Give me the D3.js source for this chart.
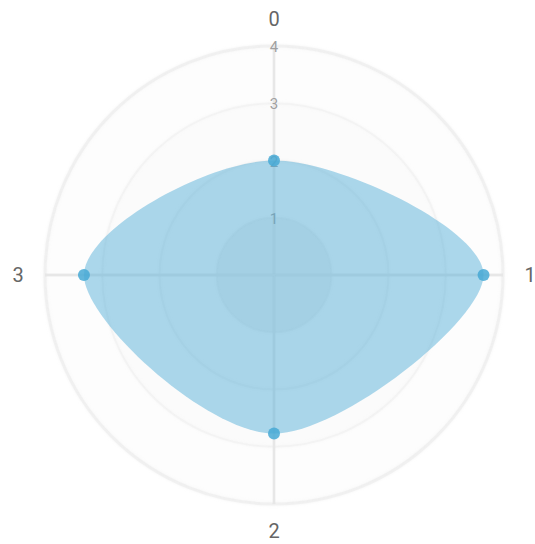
<!DOCTYPE html>
<html>
<head>
<meta charset="utf-8">
<script src="https://cdn.jsdelivr.net/npm/d3@7"></script>
<style>
  html, body { margin: 0; padding: 0; background: #fff; }
  svg { display: block; }
</style>
</head>
<body>
<div id="radar"></div>
<script>
// axes (categories), one series, and the grid tick labels
var axes = ["0", "1", "2", "3"];
var values = [2, 3.66, 2.77, 3.32];
var ticks = [1, 2, 3, 4];

var width = 535,
  height = 544,
  cx = 274,
  cy = 275,
  maxValue = 4,
  radius = 229;

var rScale = d3.scaleLinear().domain([0, maxValue]).range([0, radius]);
var angle = d3.scaleLinear().domain([0, axes.length]).range([0, 2 * Math.PI]);

var svg = d3.select("#radar").append("svg")
  .attr("width", width)
  .attr("height", height);

// soft glow for the grid circles
var filter = svg.append("defs").append("filter").attr("id", "glow")
  .attr("x", "-20%").attr("y", "-20%").attr("width", "140%").attr("height", "140%");
filter.append("feGaussianBlur").attr("stdDeviation", 1.5).attr("result", "blur");
var merge = filter.append("feMerge");
merge.append("feMergeNode").attr("in", "blur");
merge.append("feMergeNode").attr("in", "SourceGraphic");

var g = svg.append("g").attr("transform", "translate(" + cx + "," + cy + ")");

// grid circles, outer first so the inner ones stack darker
var grid = g.append("g").attr("class", "grid");
grid.selectAll(".gridCircle")
  .data(ticks.slice().reverse())
  .enter()
  .append("circle")
  .attr("class", "gridCircle")
  .attr("r", function (d) { return rScale(d); })
  .style("fill", "#cdcdcd")
  .style("fill-opacity", function (d) { return d === 1 ? 0.09 : 0.016; })
  .style("stroke", "#e6e6e6")
  .style("stroke-opacity", function (d) { return d === maxValue ? 0.38 : 0.28; })
  .style("stroke-width", function (d) { return d === maxValue ? 3 : 2; })
  .style("filter", "url(#glow)");

// axis lines
var axis = g.selectAll(".axis")
  .data(axes)
  .enter()
  .append("g")
  .attr("class", "axis");

axis.append("line")
  .attr("x1", 0).attr("y1", 0)
  .attr("x2", function (d, i) { return rScale(maxValue) * Math.sin(angle(i)); })
  .attr("y2", function (d, i) { return -rScale(maxValue) * Math.cos(angle(i)); })
  .style("stroke", "#dcdcdc")
  .style("stroke-width", 2.4);

axis.append("line")
  .attr("x1", 0).attr("y1", 0)
  .attr("x2", function (d, i) { return rScale(maxValue) * Math.sin(angle(i)); })
  .attr("y2", function (d, i) { return -rScale(maxValue) * Math.cos(angle(i)); })
  .style("stroke", "#f7f7f7")
  .style("stroke-width", 0.8);

// tick labels along the top axis
g.selectAll(".tickLabel")
  .data(ticks)
  .enter()
  .append("text")
  .attr("class", "tickLabel")
  .attr("x", 0)
  .attr("y", function (d) { return -rScale(d); })
  .attr("dy", "0.4em")
  .attr("text-anchor", "middle")
  .style("font-family", "Roboto, sans-serif")
  .style("font-size", "15px")
  .style("fill", "#a0a0a0")
  .text(function (d) { return d; });

// axis names
axis.append("text")
  .attr("class", "legend")
  .attr("x", function (d, i) { return (radius + 27) * Math.sin(angle(i)); })
  .attr("y", function (d, i) { return -(radius + 27) * Math.cos(angle(i)); })
  .attr("dy", "0.35em")
  .attr("text-anchor", "middle")
  .style("font-family", "Roboto, sans-serif")
  .style("font-size", "20px")
  .style("fill", "#666")
  .text(function (d) { return d; });

// the blob
var radarLine = d3.lineRadial()
  .curve(d3.curveCardinalClosed)
  .radius(function (d) { return rScale(d); })
  .angle(function (d, i) { return angle(i); });

g.append("path")
  .attr("class", "radarArea")
  .attr("d", radarLine(values))
  .style("fill", "#47a9d5")
  .style("fill-opacity", 0.45);

g.selectAll(".radarCircle")
  .data(values)
  .enter()
  .append("circle")
  .attr("class", "radarCircle")
  .attr("r", 6)
  .attr("cx", function (d, i) { return rScale(d) * Math.sin(angle(i)); })
  .attr("cy", function (d, i) { return -rScale(d) * Math.cos(angle(i)); })
  .style("fill", "#47a9d5")
  .style("fill-opacity", 0.85);
</script>
</body>
</html>
